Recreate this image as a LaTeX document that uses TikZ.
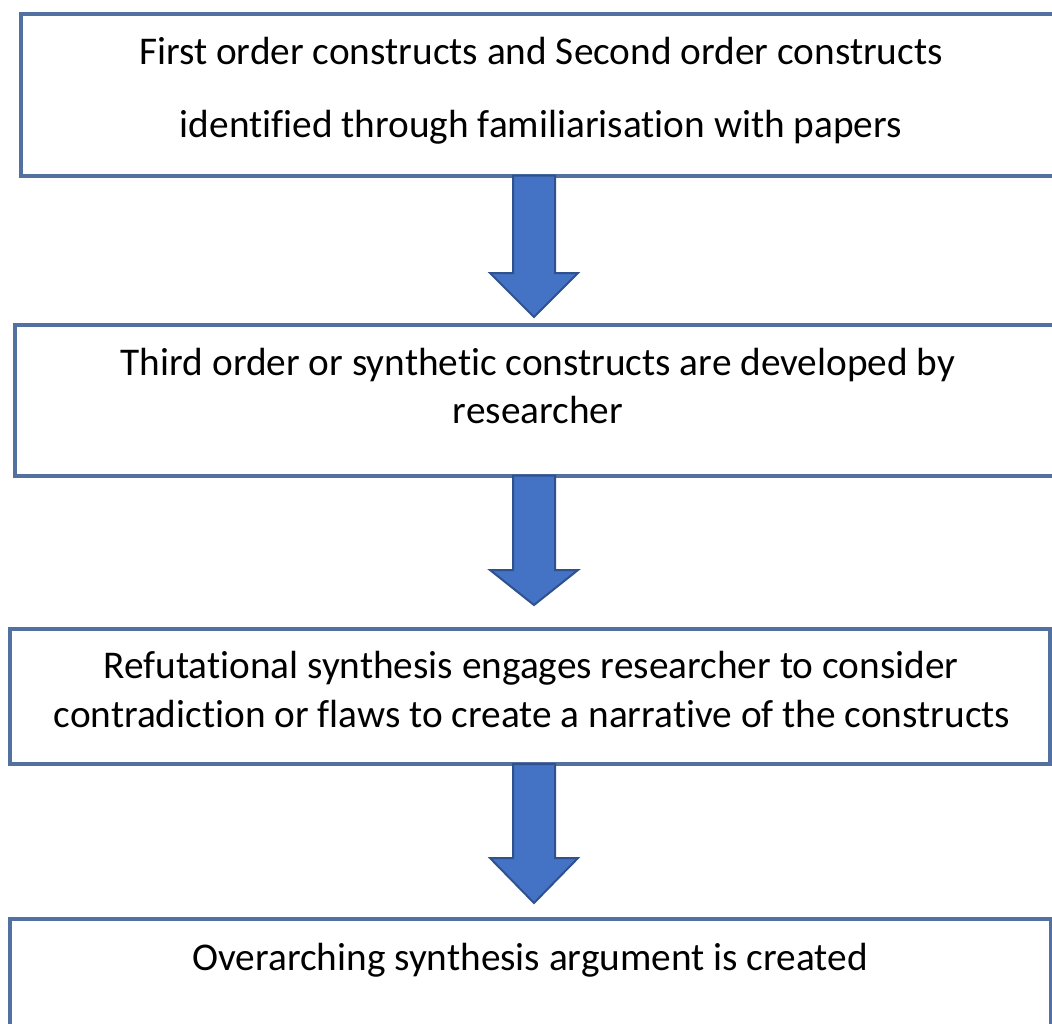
\documentclass[tikz,border=0pt]{standalone}
\usepackage{fontspec}
\setmainfont[Ligatures=NoCommon]{Carlito}
\usetikzlibrary{calc}
\definecolor{boxline}{HTML}{5271A0}
\definecolor{arrowfill}{HTML}{4472C4}
\definecolor{arrowline}{HTML}{2F528F}
\tikzset{
  stagebox/.style={draw=boxline, line width=4pt, fill=white, rectangle, inner sep=0pt, outer sep=0pt},
  label text/.style={anchor=base, inner sep=0pt, font=\fontsize{39.3}{47}\selectfont},
  blockarrow/.style={fill=arrowfill, draw=arrowline, line width=2pt, line join=miter},
}
% block arrow: #1 start point (on box edge), #2 tip, #3 head height
\newcommand\flowarrow[3]{%
  \draw[blockarrow]
    ($(#1)+(-21,0)$) -- ($(#2)+(-21,-#3)$) -- ($(#2)+(-44,-#3)$) -- (#2)
    -- ($(#2)+(44,-#3)$) -- ($(#2)+(21,-#3)$) -- ($(#1)+(21,0)$) -- cycle;}
\begin{document}
\begin{tikzpicture}[x=1pt,y=-1pt]
  \useasboundingbox (0,0) rectangle (1052,1023);
  \fill[white] (0,0) rectangle (1052,1023);
  \clip (0,0) rectangle (1052,1023);

  % stage boxes
  \node[stagebox, minimum width=1049.5pt, minimum height=161.5pt] (b1) at (545.25,94.75) {};
  \node[stagebox, minimum width=1055pt, minimum height=150.5pt] (b2) at (542.5,400.25) {};
  \node[stagebox, minimum width=1040.5pt, minimum height=135pt] (b3) at (529.75,696.5) {};
  \node[stagebox, minimum width=1041pt, minimum height=130pt] (b4) at (530,984) {};

  % texts
  \node[label text] (t1a) at (541,64) {First order constructs and Second order constructs};
  \node[label text] (t1b) at (541,137) {identified through familiarisation with papers};
  \node[label text] (t2a) at (538,375) {Third order or synthetic constructs are developed by};
  \node[label text] (t2b) at (538,423) {researcher};
  \node[label text] (t3a) at (531,678) {Refutational synthesis engages researcher to consider};
  \node[label text] (t3b) at (532,727) {contradiction or flaws to create a narrative of the constructs};
  \node[label text] (t4a) at (530,970) {Overarching synthesis argument is created};

  % arrow tips
  \coordinate (tip1) at (534,317);
  \coordinate (tip2) at (534,605);
  \coordinate (tip3) at (534,903);
  \coordinate (s1) at (b1.south -| tip1);
  \coordinate (s2) at (b2.south -| tip2);
  \coordinate (s3) at (b3.south -| tip3);

  \flowarrow{s1}{tip1}{44}
  \flowarrow{s2}{tip2}{35}
  \flowarrow{s3}{tip3}{45}
\end{tikzpicture}
\end{document}
